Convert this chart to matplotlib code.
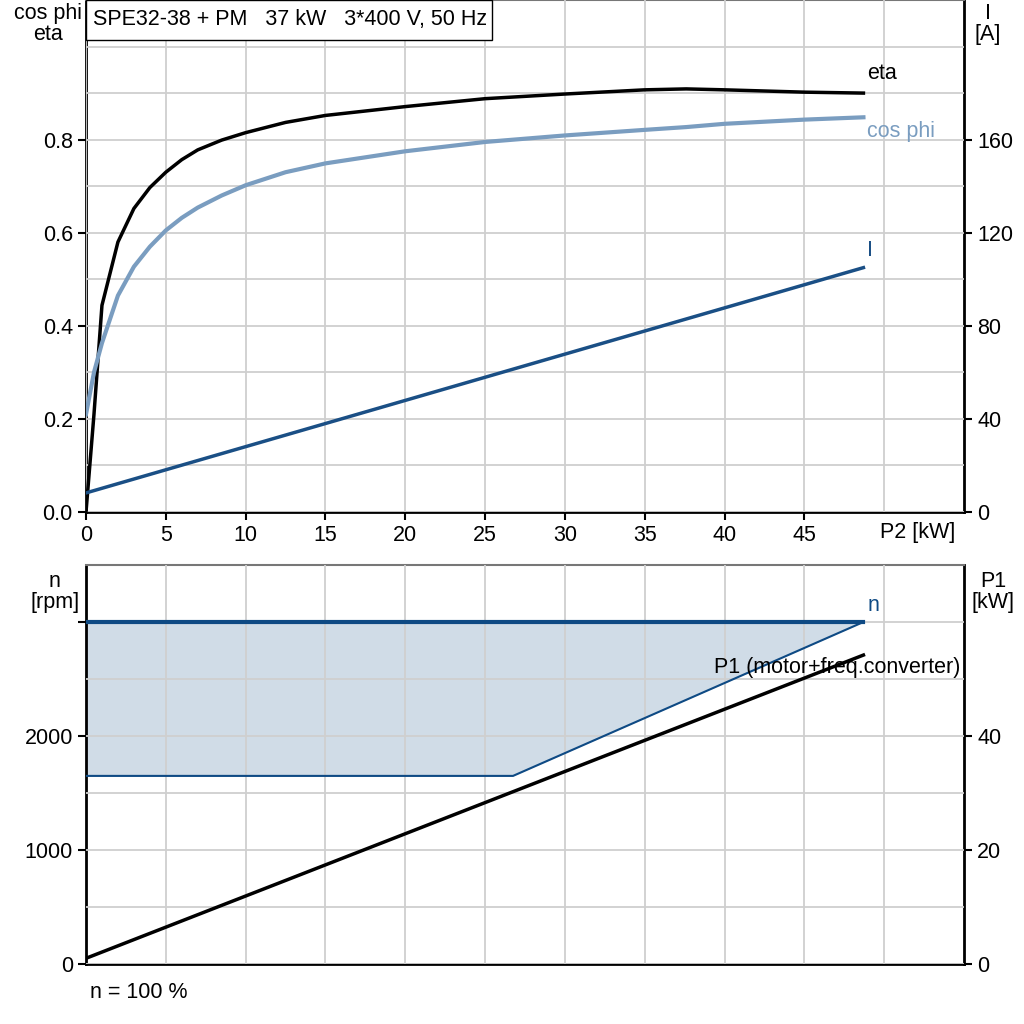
import matplotlib
matplotlib.use("Agg")
import matplotlib.pyplot as plt
from matplotlib.patches import Rectangle

plt.rcParams["font.family"] = ["Liberation Sans", "DejaVu Sans"]
FS = 15.5
plt.rcParams["font.size"] = FS

# top chart data (P2 in kW)
p2 = [0, 0.5, 1, 2, 3, 4, 5, 6, 7, 8.5, 10, 12.5, 15, 20, 25, 30, 35,
      37.6, 40, 45, 48.7]
eta = [0, 0.21, 0.444, 0.58, 0.652, 0.697, 0.73, 0.757, 0.778, 0.799,
       0.815, 0.837, 0.852, 0.871, 0.888, 0.898, 0.907, 0.909, 0.907,
       0.902, 0.900]
cos_phi = [0.21, 0.30, 0.363, 0.465, 0.527, 0.57, 0.605, 0.632, 0.654,
           0.68, 0.702, 0.73, 0.749, 0.775, 0.795, 0.809, 0.821, 0.827,
           0.834, 0.843, 0.848]
i_p2 = [0, 48.7]
current = [8.2, 105]

# bottom chart data
n_p2 = [0, 26.75, 48.7]
n_top = [3000, 3000, 3000]
n_low = [1650, 1650, 3000]
p1_p2 = [0, 27, 48.7]
p1 = [1.0, 30.5, 54.2]

C_ETA = "black"
C_COS = "#7a9dc0"
C_I = "#1a4f85"
C_N = "#0e4a84"
C_FILL = "#d0dce7"
C_GRID = "#cfcfcf"

fig = plt.figure(figsize=(10.24, 10.24), dpi=100)
ax1 = fig.add_axes([86 / 1024, 0.5, 878 / 1024, 0.5])
ax2 = fig.add_axes([86 / 1024, 60 / 1024, 878 / 1024, 399 / 1024])


def style(ax):
    ax.set_xlim(0, 55)
    ax.set_xticks(range(5, 55, 5), minor=True)
    ax.grid(True, which="both", axis="both", color=C_GRID, lw=1.3)
    for s in ("left", "bottom", "right"):
        ax.spines[s].set_linewidth(2)
    ax.spines["top"].set_color("#777777")
    ax.spines["top"].set_linewidth(1.5)
    ax.tick_params(which="major", length=6, width=1.5, direction="out")
    ax.tick_params(which="minor", length=0)
    ax.set_axisbelow(False)


# ---- top: eta, cos phi, I ----
style(ax1)
ax1.set_ylim(0, 1.1)
ax1.set_yticks([0, 0.2, 0.4, 0.6, 0.8])
ax1.set_yticklabels(["0.0", "0.2", "0.4", "0.6", "0.8"])
ax1.set_yticks([x / 10 for x in range(1, 11)], minor=True)
ax1.set_xticks(range(0, 50, 5))
ax1.plot(p2, eta, color=C_ETA, lw=2.5, zorder=3)
ax1.plot(p2, cos_phi, color=C_COS, lw=3, zorder=3)
ax1r = ax1.twinx()
ax1r.set_ylim(0, 220)
ax1r.set_yticks([0, 40, 80, 120, 160])
ax1r.tick_params(length=6, width=1.5)
for s in ax1r.spines.values():
    s.set_visible(False)
ax1r.plot(i_p2, current, color=C_I, lw=2.5)

ax1.text(48.95, 0.93, "eta", color=C_ETA, fontsize=FS)
ax1.text(48.95, 0.805, "cos phi", color=C_COS, fontsize=FS)
ax1.text(48.95, 0.55, "I", color=C_I, fontsize=FS)
ax1.text(52.1, -0.043, "P2 [kW]", ha="center", va="center", fontsize=FS)
fig.text(48 / 1024, 1 - 24 / 1024, "cos phi\neta", ha="center", va="center",
         fontsize=FS, linespacing=1.05)
fig.text(988 / 1024, 1 - 24 / 1024, "I\n[A]", ha="center", va="center",
         fontsize=FS, linespacing=1.05)
ax1.add_patch(Rectangle((0, 1 - 40 / 512), 406 / 878, 40 / 512,
                        transform=ax1.transAxes, facecolor="white",
                        edgecolor="black", lw=1, zorder=5, clip_on=False))
ax1.text(7 / 878, 1 - 20 / 512, "SPE32-38 + PM   37 kW   3*400 V, 50 Hz",
         transform=ax1.transAxes, va="center", ha="left", fontsize=FS,
         zorder=6)

# ---- bottom: n and P1 ----
style(ax2)
ax2.set_ylim(0, 3500)
ax2.set_yticks([0, 1000, 2000, 3000])
ax2.set_yticklabels(["0", "1000", "2000", ""])
ax2.set_yticks(range(500, 3500, 500), minor=True)
ax2.set_xticks([])
ax2.fill_between(n_p2, n_low, n_top, color=C_FILL, lw=0, zorder=1)
ax2.plot(n_p2, n_low, color=C_N, lw=1.5, zorder=3)
ax2.plot(n_p2, n_top, color=C_N, lw=3, zorder=3)
ax2r = ax2.twinx()
ax2r.set_ylim(0, 70)
ax2r.set_yticks([0, 20, 40])
ax2r.tick_params(length=6, width=1.5)
for s in ax2r.spines.values():
    s.set_visible(False)
ax2r.plot(p1_p2, p1, color="black", lw=2.5)

ax2.text(49.3, 3100, "n", color=C_N, fontsize=FS, ha="center")
ax2.text(54.8, 2550, "P1 (motor+freq.converter)", color="black",
         fontsize=FS, ha="right")
fig.text(55 / 1024, 1 - 592 / 1024, "n\n[rpm]", ha="center", va="center",
         fontsize=FS, linespacing=1.05)
fig.text(993 / 1024, 1 - 592 / 1024, "P1\n[kW]", ha="center", va="center",
         fontsize=FS, linespacing=1.05)
fig.text(90 / 1024, 1 - 992 / 1024, "n = 100 %", ha="left", va="center",
         fontsize=FS)

fig.savefig("out.png", dpi=100)
